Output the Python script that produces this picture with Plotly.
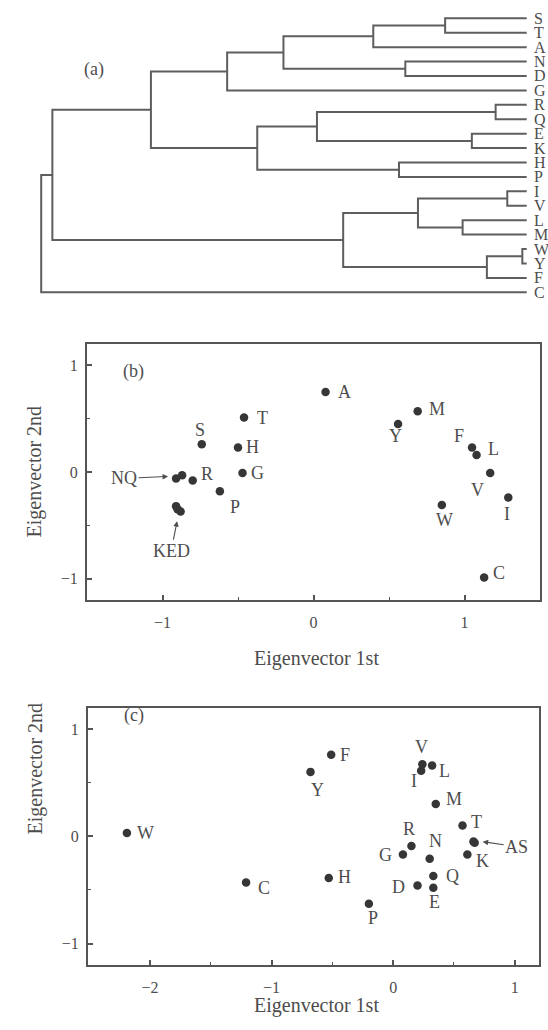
import plotly.graph_objects as go

W, H = 548, 1030
FONT = "Liberation Serif"
INK = "#363636"
TXT = "#4d4d4d"
LINE = "#555555"

# ---------------- (a) dendrogram data ----------------
leaves = ["S", "T", "A", "N", "D", "G", "R", "Q", "E", "K",
          "H", "P", "I", "V", "L", "M", "W", "Y", "F", "C"]
# linkage rows: cluster ids >= 20 refer to earlier merges (20 + row index)
link_a = [0, 20, 3, 21, 23, 6, 8, 25, 10, 27, 24, 12, 14, 31, 16, 34, 33, 30, 37]
link_b = [1, 2, 4, 22, 5, 7, 9, 26, 11, 28, 29, 13, 15, 32, 17, 18, 35, 36, 19]
link_h = [0.168, 0.316, 0.250, 0.501, 0.617, 0.064, 0.113, 0.432, 0.263, 0.555,
          0.774, 0.040, 0.132, 0.224, 0.009, 0.082, 0.378, 0.977, 1.000]

# ---------------- (b) scatter data ----------------
names_b = ["A", "T", "S", "H", "G", "R", "N", "Q", "P", "K", "E", "D",
           "M", "Y", "F", "L", "V", "I", "W", "C"]
x_b = [0.08, -0.46, -0.74, -0.50, -0.47, -0.80, -0.91, -0.87, -0.62, -0.91, -0.90, -0.88,
       0.69, 0.56, 1.05, 1.08, 1.17, 1.29, 0.85, 1.13]
y_b = [0.75, 0.51, 0.26, 0.23, -0.01, -0.08, -0.06, -0.03, -0.18, -0.32, -0.35, -0.37,
       0.57, 0.45, 0.23, 0.16, -0.01, -0.24, -0.31, -0.99]

# ---------------- (c) scatter data ----------------
names_c = ["W", "C", "H", "F", "Y", "P", "V", "I", "L", "M", "T", "A", "S", "K",
           "R", "G", "N", "Q", "E", "D"]
x_c = [-2.19, -1.21, -0.53, -0.51, -0.68, -0.20, 0.24, 0.23, 0.32, 0.35, 0.57, 0.67, 0.66, 0.61,
       0.15, 0.08, 0.30, 0.33, 0.33, 0.20]
y_c = [0.03, -0.43, -0.39, 0.76, 0.60, -0.63, 0.67, 0.61, 0.66, 0.30, 0.10, -0.06, -0.05, -0.17,
       -0.09, -0.17, -0.21, -0.37, -0.48, -0.46]

tick_vals = [-1, 0, 1]
tick_vals_c = [-2, -1, 0, 1]
x_title = "Eigenvector 1st"
y_title = "Eigenvector 2nd"

# ---------------- label placement (pixels; dx right, dy down) ----------------
off_b = {"A": (19, 0), "T": (18, 0), "S": (-2, -14), "H": (14, 0), "G": (15, 0),
         "R": (14, -7), "P": (15, 16), "M": (19, -2), "Y": (-3, 12), "F": (-13, -11),
         "L": (17, -6), "V": (-13, 17), "I": (-1, 16), "W": (3, 15), "C": (15, -5)}
off_c = {"W": (19, 0), "C": (18, 6), "H": (16, -1), "F": (14, 0), "Y": (7, 18),
         "P": (4, 14), "V": (-1, -17), "I": (-7, 10), "L": (12, 6), "M": (18, -5),
         "T": (14, -4), "K": (15, 7), "R": (-2, -17), "G": (-17, 1), "N": (6, -18),
         "Q": (19, 0), "D": (-19, 1), "E": (1, 14)}

fig = go.Figure()

# ---- dendrogram geometry ----
n = len(leaves)
pos_y = {i: float(i) for i in range(n)}
pos_h = {i: 0.0 for i in range(n)}
dx, dy = [], []
for k, (a, b, h) in enumerate(zip(link_a, link_b, link_h)):
    dx += [pos_h[a], h, h, pos_h[b], None]
    dy += [pos_y[a], pos_y[a], pos_y[b], pos_y[b], None]
    pos_y[n + k] = (pos_y[a] + pos_y[b]) / 2
    pos_h[n + k] = h

fig.add_trace(go.Scatter(x=dx, y=dy, mode="lines", xaxis="x3", yaxis="y3",
                         line=dict(color="#5e5e5e", width=2), hoverinfo="skip",
                         showlegend=False))

# pixel anchors for dendrogram scale
leaf_x_px, root_x_px = 526.7, 41.2
scale_x = (root_x_px - leaf_x_px) / max(link_h)
rl = -leaf_x_px / scale_x
rr = rl + W / scale_x
top_px, bot_px = 18.3, 292.3
s_y = (bot_px - top_px) / (n - 1)
r1 = -top_px / s_y
r0 = r1 + H / s_y

annotations = []
for i, name in enumerate(leaves):
    annotations.append(dict(text=name, xref="paper", yref="y3", x=532 / W, y=i,
                            xanchor="left", yanchor="middle", showarrow=False,
                            font=dict(family=FONT, size=16, color=TXT)))
annotations.append(dict(text="(a)", xref="paper", yref="paper", x=82 / W, y=1 - 57 / H,
                        showarrow=False, font=dict(family=FONT, size=18, color=TXT)))

# ---- scatter panels ----
fig.add_trace(go.Scatter(x=x_b, y=y_b, mode="markers", xaxis="x", yaxis="y",
                         marker=dict(size=8.5, color=INK), showlegend=False))
fig.add_trace(go.Scatter(x=x_c, y=y_c, mode="markers", xaxis="x2", yaxis="y2",
                         marker=dict(size=8.5, color=INK), showlegend=False))

lab_font = dict(family=FONT, size=18, color=TXT)
for nm, xv, yv in zip(names_b, x_b, y_b):
    if nm in off_b:
        ox, oy = off_b[nm]
        annotations.append(dict(text=nm, x=xv, y=yv, xref="x", yref="y", showarrow=False,
                                xshift=ox, yshift=-oy, font=lab_font))
for nm, xv, yv in zip(names_c, x_c, y_c):
    if nm in off_c:
        ox, oy = off_c[nm]
        annotations.append(dict(text=nm, x=xv, y=yv, xref="x2", yref="y2", showarrow=False,
                                xshift=ox, yshift=-oy, font=lab_font))

arrow = dict(showarrow=True, arrowhead=2, arrowsize=1, arrowwidth=1.1, arrowcolor=TXT,
             font=lab_font, axref="pixel", ayref="pixel")
iN = names_b.index("N")
annotations.append(dict(text="NQ", x=x_b[iN], y=y_b[iN], xref="x", yref="y",
                        xshift=-8, yshift=2, ax=-44, ay=2, **arrow))
iK = names_b.index("K")
annotations.append(dict(text="KED", x=x_b[iK], y=y_b[iK], xref="x", yref="y",
                        xshift=1, yshift=-15, ax=-6, ay=30, **arrow))
iA = names_c.index("A")
annotations.append(dict(text="AS", x=x_c[iA], y=y_c[iA], xref="x2", yref="y2",
                        xshift=8, yshift=1, ax=34, ay=5, **arrow))

# panel tags
annotations.append(dict(text="(b)", xref="paper", yref="paper", x=121 / W, y=1 - 371 / H,
                        showarrow=False, font=dict(family=FONT, size=18, color=TXT)))
annotations.append(dict(text="(c)", xref="paper", yref="paper", x=122 / W, y=1 - 728 / H,
                        showarrow=False, font=dict(family=FONT, size=18, color=TXT)))

# axis titles
tfont = dict(family=FONT, size=20, color=TXT)
for xc, yc in [(316, 658), (316, 1019)]:
    annotations.append(dict(text=x_title, xref="paper", yref="paper", x=xc / W,
                            y=1 - yc / H, showarrow=False, font=tfont))
for xc, yc in [(20, 472), (21, 837)]:
    annotations.append(dict(text=y_title, xref="paper", yref="paper", x=xc / W,
                            y=1 - yc / H, showarrow=False, textangle=-90, font=tfont))


def frame_axis(domain, rng, tv, minor_tv, standoff):
    return dict(domain=domain, range=rng, tickvals=tv, ticks="inside", ticklen=5,
                tickwidth=1.5, tickcolor=LINE, showline=True, linecolor=LINE, linewidth=2,
                mirror=True, showgrid=False, zeroline=False, ticklabelstandoff=standoff,
                tickfont=dict(family=FONT, size=16, color=TXT),
                minor=dict(tickvals=minor_tv, ticks="inside", ticklen=3, tickwidth=1.3,
                           tickcolor=LINE, showgrid=False))


fig.update_layout(
    width=W, height=H, margin=dict(l=0, r=0, t=0, b=0),
    paper_bgcolor="white", plot_bgcolor="rgba(0,0,0,0)", showlegend=False,
    xaxis=frame_axis([87 / W, 540 / W], [-1.5, 1.5], tick_vals, [-0.5, 0.5], 7),
    yaxis=frame_axis([1 - 600 / H, 1 - 344 / H], [-1.2, 1.2], tick_vals, [-0.5, 0.5], 4),
    xaxis2=frame_axis([88 / W, 538.5 / W], [-2.51, 1.195], tick_vals_c,
                      [-1.5, -0.5, 0.5], 7),
    yaxis2=frame_axis([1 - 965 / H, 1 - 707.5 / H], [-1.2, 1.2], tick_vals,
                      [-0.5, 0.5], 4),
    xaxis3=dict(domain=[0, 1], range=[rl, rr], visible=False),
    yaxis3=dict(domain=[0, 1], range=[r0, r1], visible=False),
    annotations=annotations,
)
fig.layout.xaxis.anchor = "y"
fig.layout.yaxis.anchor = "x"
fig.layout.xaxis2.anchor = "y2"
fig.layout.yaxis2.anchor = "x2"
fig.layout.xaxis3.anchor = "y3"
fig.layout.yaxis3.anchor = "x3"

# remove the page's default body margin so the figure fills the window exactly
fig.write_html("out.html", config={"displayModeBar": False},
               post_script="document.body.style.margin='0';"
                           "document.documentElement.style.overflow='hidden';")
